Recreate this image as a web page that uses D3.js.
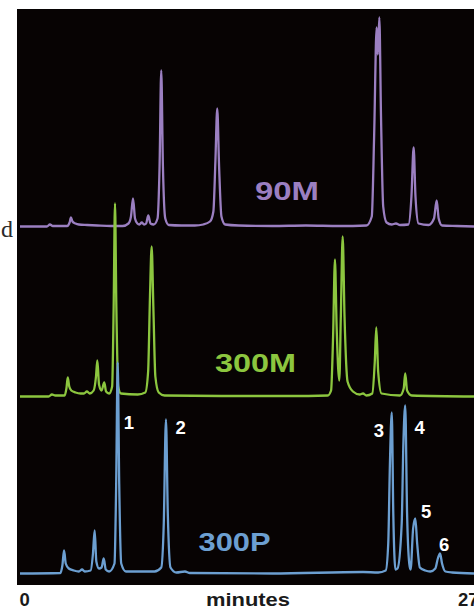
<!DOCTYPE html>
<html>
<head>
<meta charset="utf-8">
<script src="https://cdn.jsdelivr.net/npm/d3@7"></script>
<style>
  html, body { margin: 0; padding: 0; background: #fff; }
  svg { display: block; }
</style>
</head>
<body>
<svg id="chart" width="474" height="608"></svg>
<script>
// chromatogram traces, [minutes, signal above own baseline]
const trace90M = [
  [0, 0], [1.6, 0], [1.78, 2], [1.95, 0.5], [2.8, 0.5], [2.95, 4], [3.03, 9], [3.12, 5], [3.3, 3],
  [3.5, 2], [4.0, 1.5], [4.6, 1], [5.4, 0.5], [6.1, 0.5], [6.45, 3], [6.6, 10], [6.72, 28],
  [6.84, 8], [6.98, 3], [7.1, 2], [7.24, 4], [7.38, 2], [7.5, 3], [7.63, 11], [7.76, 3],
  [7.95, 2], [8.18, 8], [8.3, 60], [8.4, 156], [8.5, 60], [8.64, 8], [8.85, 1.5], [9.6, 1],
  [10.4, 1], [10.9, 2], [11.3, 5], [11.5, 15], [11.62, 65], [11.73, 118], [11.84, 60],
  [11.98, 10], [12.2, 2], [13, 1], [15, 0.5], [17, 1], [19, 0.5], [20.6, 1], [20.92, 10],
  [21.06, 90], [21.21, 199], [21.28, 172], [21.37, 209], [21.47, 110], [21.6, 20], [21.8, 4],
  [22.1, 2], [22.36, 3], [22.6, 1.5], [23.1, 2], [23.28, 30], [23.41, 79], [23.52, 30],
  [23.7, 3], [24.3, 1.5], [24.62, 8], [24.78, 26], [24.9, 8], [25.1, 1], [26, 0.5], [27, 0]
];
const trace300M = [
  [0, 0], [1.7, 0], [1.9, 2], [2.1, 1], [2.65, 1], [2.76, 8], [2.84, 19], [2.93, 10], [3.05, 6],
  [3.3, 4], [3.6, 3], [3.8, 3], [3.98, 5], [4.15, 3], [4.38, 6], [4.52, 20], [4.6, 36],
  [4.7, 12], [4.85, 6], [5.01, 14], [5.12, 5], [5.3, 3], [5.48, 10], [5.57, 90], [5.65, 193],
  [5.73, 90], [5.84, 10], [6.0, 3], [7.0, 2], [7.45, 4], [7.62, 25], [7.73, 100], [7.83, 150],
  [7.93, 90], [8.05, 20], [8.25, 4], [8.6, 1], [12, 0.5], [16, 0.5], [18.3, 1], [18.5, 6],
  [18.62, 60], [18.73, 137], [18.83, 70], [18.99, 16], [19.08, 80], [19.19, 160], [19.3, 80],
  [19.48, 15], [19.8, 5], [20.2, 2], [20.4, 3], [20.6, 1], [20.95, 3], [21.1, 35], [21.19, 69],
  [21.3, 25], [21.5, 3], [22.6, 1], [22.82, 8], [22.91, 23], [23.02, 6], [23.3, 1], [27, 0]
];
const trace300P = [
  [0, 0], [2.4, 0.5], [2.52, 8], [2.62, 23], [2.72, 10], [2.9, 5], [3.2, 3], [3.5, 2],
  [3.69, 4], [3.85, 2], [4.2, 3], [4.34, 20], [4.44, 43], [4.54, 12], [4.7, 5], [4.85, 6],
  [4.98, 15], [5.1, 4], [5.3, 2], [5.62, 10], [5.72, 90], [5.81, 211], [5.9, 90], [6.02, 10],
  [6.3, 2], [8.0, 2], [8.4, 6], [8.55, 50], [8.68, 154], [8.79, 60], [8.95, 6], [9.3, 1],
  [9.81, 2], [10.1, 0.5], [15, 0], [20.4, 1.5], [21.3, 1], [21.75, 3], [21.9, 30], [22.0, 110],
  [22.11, 161], [22.2, 60], [22.33, 4], [22.45, 5], [22.7, 50], [22.8, 130], [22.91, 168],
  [23.02, 60], [23.15, 10], [23.23, 4], [23.38, 45], [23.51, 55], [23.62, 30], [23.78, 6],
  [24.1, 3], [24.4, 2], [24.7, 5], [24.85, 15], [24.98, 20], [25.1, 10], [25.3, 2], [25.7, 1],
  [27, 0]
];

const seriesNames = ['90M', '300M', '300P'];
const seriesTraces = [trace90M, trace300M, trace300P];
const seriesOffsets = [358.5, 188.5, 11.5];       // stacked baselines, signal units
const seriesLabelAt = [[15.88, 26.5], [14.0, 24.8], [12.76, 22.5]]; // [minutes, signal]

const peakLabels = ['1', '2', '3', '4', '5', '6'];
const peakLabelAt = [[6.48, 145], [9.55, 139.5], [21.35, 137], [23.77, 139.5], [24.16, 56], [25.22, 23]];

const xTicks = [0, 27];
const xTitle = 'minutes';

const colors = ['#9b7fc1', '#8cc63f', '#6c9fd1'];
const labelWidths = [64, 81, 72];

const svg = d3.select('#chart');
const xScale = d3.scaleLinear().domain([0, 27]).range([20, 474]);
const yScale = d3.scaleLinear().domain([0, 576]).range([585, 9]);

// black panel
svg.append('rect')
  .attr('x', 17).attr('y', 9)
  .attr('width', 474 - 17).attr('height', 576)
  .attr('fill', '#070303');

// cut-off caption fragment at left
svg.append('text')
  .attr('x', 13).attr('y', 236.5)
  .attr('text-anchor', 'end')
  .attr('font-family', '"Liberation Serif", serif')
  .attr('font-size', 24)
  .attr('fill', '#2a2a2a')
  .text('d');

const g = svg.append('g');

seriesTraces.forEach((trace, i) => {
  const line = d3.line()
    .x((d) => xScale(d[0]))
    .y((d) => yScale(d[1] + seriesOffsets[i]))
    .curve(d3.curveMonotoneX);

  g.append('path')
    .attr('d', line(trace))
    .attr('fill', 'none')
    .attr('stroke', colors[i])
    .attr('stroke-width', 2.3)
    .attr('stroke-linejoin', 'round');
});

// series labels
seriesNames.forEach((name, i) => {
  const [t, v] = seriesLabelAt[i];
  g.append('text')
    .attr('x', xScale(t))
    .attr('y', yScale(v + seriesOffsets[i]))
    .attr('text-anchor', 'middle')
    .attr('font-family', '"Liberation Sans", Arial, sans-serif')
    .attr('font-weight', 'bold')
    .attr('font-size', 25.5)
    .attr('textLength', labelWidths[i])
    .attr('lengthAdjust', 'spacingAndGlyphs')
    .attr('fill', colors[i])
    .text(name);
});

// peak numbers on the 300P trace
peakLabels.forEach((lab, i) => {
  const [t, v] = peakLabelAt[i];
  g.append('text')
    .attr('x', xScale(t))
    .attr('y', yScale(v + seriesOffsets[2]))
    .attr('text-anchor', 'middle')
    .attr('font-family', '"Liberation Sans", Arial, sans-serif')
    .attr('font-weight', 'bold')
    .attr('font-size', 18.5)
    .attr('fill', '#ffffff')
    .text(lab);
});

// x axis: just the end labels
const xAxis = d3.axisBottom(xScale).tickValues(xTicks).tickSize(0).tickPadding(0);
const xAxisGroup = svg.append('g')
  .attr('transform', 'translate(0, 591)')
  .call(xAxis);
xAxisGroup.select('.domain').remove();
xAxisGroup.selectAll('text')
  .attr('font-family', '"Liberation Sans", Arial, sans-serif')
  .attr('font-weight', 'bold')
  .attr('font-size', 18.5)
  .attr('fill', '#1a1a1a')
  .attr('dy', '0.8em')
  .attr('text-anchor', (d) => (d === 0 ? 'start' : 'end'))
  .attr('dx', (d) => (d === 0 ? -1 : 4));

svg.append('text')
  .attr('x', 248).attr('y', 605.5)
  .attr('text-anchor', 'middle')
  .attr('font-family', '"Liberation Sans", Arial, sans-serif')
  .attr('font-weight', 'bold')
  .attr('font-size', 18.5)
  .attr('textLength', 84)
  .attr('lengthAdjust', 'spacingAndGlyphs')
  .attr('fill', '#1a1a1a')
  .text(xTitle);
</script>
</body>
</html>
